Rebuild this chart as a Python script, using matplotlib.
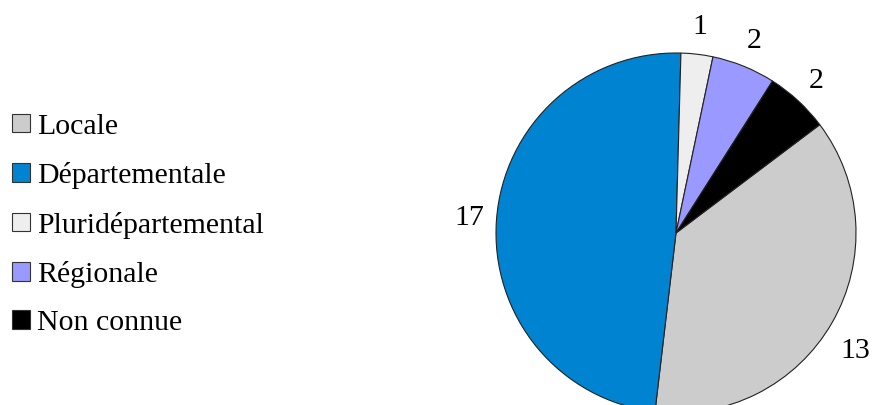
import matplotlib
matplotlib.use("Agg")
import matplotlib.pyplot as plt
from matplotlib.patches import Patch
from matplotlib.transforms import offset_copy

# data, in legend order
categories = ["Locale", "Départementale", "Pluridépartemental", "Régionale", "Non connue"]
counts = [13, 17, 1, 2, 2]
colors = ["#CCCCCC", "#0083D1", "#EEEEEE", "#9999FF", "#000000"]

plt.rcParams["font.family"] = ["Liberation Serif", "DejaVu Serif"]

fig = plt.figure(figsize=(8.74, 4.05), dpi=100)
W, H = 874, 405
cx, cy, r = 676, 233, 180

# square axes placed so the pie sits where it does in the original
ax = fig.add_axes([(cx - r) / W, (H - cy - r) / H, 2 * r / W, 2 * r / H])
wedges, texts = ax.pie(
    counts,
    colors=colors,
    labels=[str(c) for c in counts],
    startangle=37.0,
    counterclock=False,
    labeldistance=1.15,
    radius=1.0,
    wedgeprops=dict(edgecolor="#222222", linewidth=0.8),
    textprops=dict(fontsize=21.5, color="black"),
)
for t in texts:
    t.set_horizontalalignment("center")
    t.set_verticalalignment("center")
# the "13" label sits a bit lower in the original
texts[0].set_transform(offset_copy(texts[0].get_transform(), fig=fig, x=0, y=-11, units="points"))
ax.set_xlim(-1, 1)
ax.set_ylim(-1, 1)
ax.set_aspect("equal")

handles = [Patch(facecolor=c, edgecolor="#333333", linewidth=0.8) for c in colors]
fig.legend(
    handles, categories,
    loc="center left", bbox_to_anchor=(0.0, 1 - 225 / H),
    frameon=False, fontsize=21.5,
    handlelength=0.62, handleheight=0.58, handletextpad=0.22,
    labelspacing=0.75, borderaxespad=0.4, borderpad=0.0,
)

fig.savefig("out.png", dpi=100)
